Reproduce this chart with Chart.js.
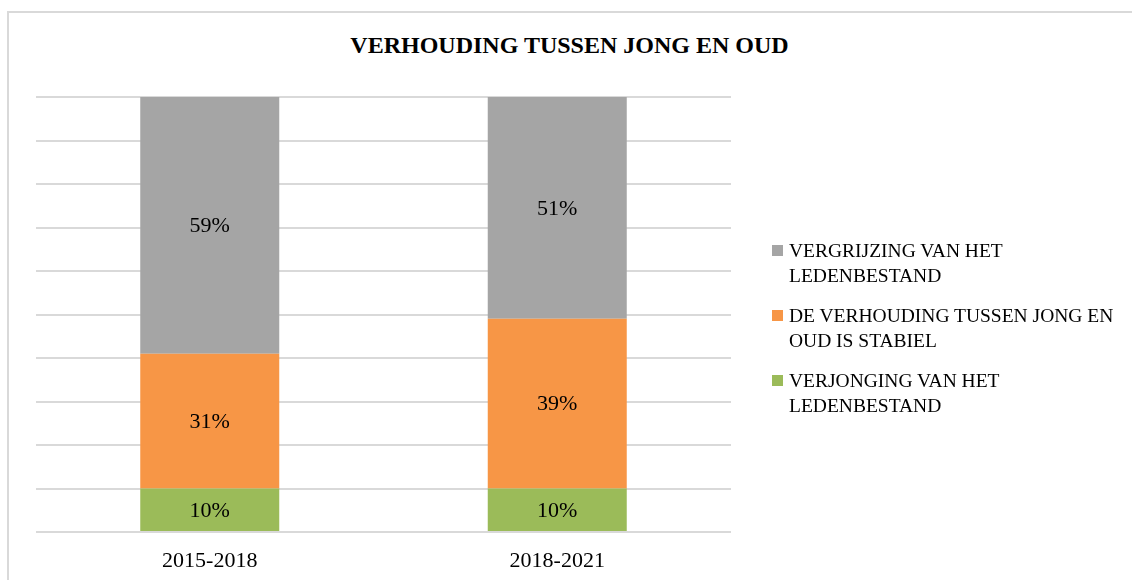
<!DOCTYPE html>
<html>
<head>
<meta charset="utf-8">
<script src="https://cdn.jsdelivr.net/npm/chart.js@4/dist/chart.umd.min.js"></script>
<style>
  html, body { margin: 0; padding: 0; background: #fff; }
  body { width: 1132px; height: 580px; position: relative; overflow: hidden; font-family: "Liberation Serif", serif; }
  .frame { position: absolute; left: 7px; top: 11px; width: 1140px; height: 600px; border: 2px solid #d9d9d9; box-sizing: border-box; }
  #title { position: absolute; left: 7px; right: 0; top: 32px; text-align: center; font-size: 24px; font-weight: bold; color: #000; }
  #chart { position: absolute; left: 0; top: 0; }
  #legend { position: absolute; left: 772px; top: 238px; width: 345px; }
  .item { display: flex; align-items: flex-start; margin-bottom: 15px; }
  .swatch { width: 11px; height: 11px; margin-top: 7px; margin-right: 6px; flex: none; }
  .txt { font-size: 19.5px; line-height: 25px; color: #000; }
</style>
</head>
<body>
<div class="frame"></div>
<div id="title">VERHOUDING TUSSEN JONG EN OUD</div>
<canvas id="chart" width="1132" height="580"></canvas>
<div id="legend"></div>
<script>
// ---------- data ----------
const periods = ["2015-2018", "2018-2021"];
const seriesNames = [
    "VERJONGING VAN HET LEDENBESTAND",
    "DE VERHOUDING TUSSEN JONG EN OUD IS STABIEL",
    "VERGRIJZING VAN HET LEDENBESTAND"
];
const youngerValues = [10, 10];
const stableValues = [31, 39];
const olderValues = [59, 51];
const seriesColors = ["#9bbb59", "#f79646", "#a5a5a5"];

const FONT = "'Liberation Serif', serif";

// ---------- labels inside bars ----------
const barLabels = {
    id: "barLabels",
    afterDatasetsDraw(chart) {
        const ctx = chart.ctx;
        ctx.save();
        ctx.font = "22px " + FONT;
        ctx.fillStyle = "#000";
        ctx.textAlign = "center";
        ctx.textBaseline = "middle";
        chart.data.datasets.forEach((ds, i) => {
            chart.getDatasetMeta(i).data.forEach((bar, j) => {
                const p = bar.getProps(["x", "y", "base"], true);
                ctx.fillText(ds.data[j] + "%", p.x, (p.y + p.base) / 2 + 1);
            });
        });
        ctx.restore();
    }
};

new Chart(document.getElementById("chart"), {
    type: "bar",
    data: {
        labels: periods,
        datasets: [
            { label: seriesNames[0], data: youngerValues, backgroundColor: seriesColors[0] },
            { label: seriesNames[1], data: stableValues, backgroundColor: seriesColors[1] },
            { label: seriesNames[2], data: olderValues, backgroundColor: seriesColors[2] }
        ]
    },
    options: {
        responsive: false,
        animation: false,
        devicePixelRatio: 1,
        layout: { padding: { left: 36, top: 97, right: 401, bottom: 0 } },
        datasets: { bar: { barPercentage: 0.4, categoryPercentage: 1 } },
        plugins: {
            legend: { display: false },
            title: { display: false },
            tooltip: { enabled: false }
        },
        scales: {
            x: {
                stacked: true,
                grid: { display: false, drawTicks: false },
                border: { display: false },
                ticks: { color: "#000", font: { family: FONT, size: 22 }, padding: 16 },
                afterFit(scale) { scale.height = 48; }
            },
            y: {
                stacked: true,
                min: 0,
                max: 100,
                ticks: { display: false, stepSize: 10 },
                grid: { color: "#d9d9d9", lineWidth: 2, drawTicks: false },
                border: { display: false }
            }
        }
    },
    plugins: [barLabels]
});

// ---------- legend (top series first) ----------
const legend = document.getElementById("legend");
for (let i = seriesNames.length - 1; i >= 0; i--) {
    const item = document.createElement("div");
    item.className = "item";
    const sw = document.createElement("div");
    sw.className = "swatch";
    sw.style.background = seriesColors[i];
    const t = document.createElement("div");
    t.className = "txt";
    t.textContent = seriesNames[i];
    item.appendChild(sw);
    item.appendChild(t);
    legend.appendChild(item);
}
</script>
</body>
</html>
